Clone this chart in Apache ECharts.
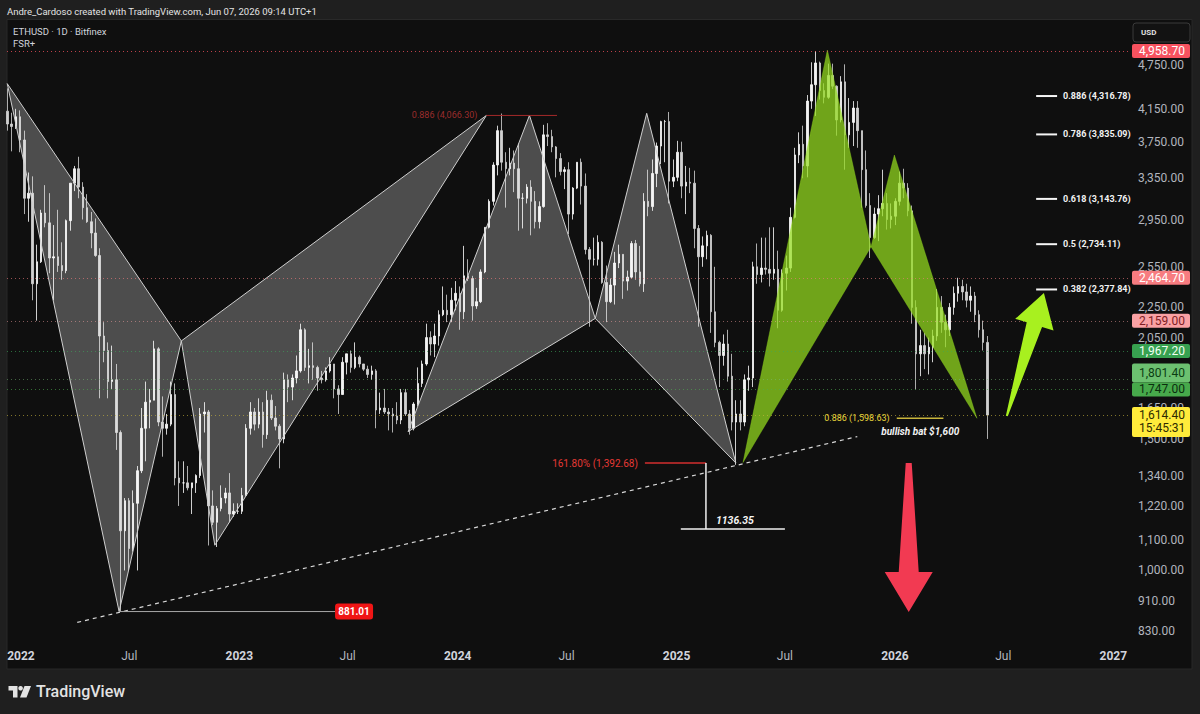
<!DOCTYPE html>
<html>
<head>
<meta charset="utf-8">
<script src="https://cdn.jsdelivr.net/npm/echarts@6/dist/echarts.min.js"></script>
<style>
html,body{margin:0;padding:0;background:#1f1f1f;}
#chart{width:1200px;height:714px;}
</style>
</head>
<body>
<div id="chart"></div>
<script>
// ================= DATA =================
// Weekly ETHUSD candles [open, high, low, close], weeks starting Monday 2021-11-29
const firstWeekStart = '2021-11-29';
const weeklyOHLC = [
  // 2021
  [4290,4780,3500,4120],[4120,4420,3880,3960],[3960,4100,3640,3930],[3930,4150,3900,4050],[4050,4130,3630,3770],
  // 2022
  [3770,3880,3000,3150],[3150,3410,2930,3200],[3200,3370,2300,2420],[2420,2730,2160,2590],
  [2590,3040,2580,3010],[3010,3280,2880,2920],[2920,3200,2500,2620],[2620,2900,2300,2630],
  [2630,3040,2510,2560],[2560,2750,2450,2520],[2520,2950,2500,2940],[2940,3300,2850,3300],[3300,3480,3220,3450],
  [3450,3580,3150,3260],[3260,3310,2950,3060],[3060,3190,2920,2930],[2930,3020,2700,2830],
  [2830,2960,2630,2640],[2640,2700,1700,2060],[2060,2150,1900,1970],[1970,2020,1700,1790],[1790,2000,1750,1800],
  [1800,1890,1450,1530],[1530,1540,881,1130],[1130,1250,1000,1240],[1240,1250,1000,1070],
  [1070,1280,1060,1230],[1230,1380,1000,1360],[1360,1650,1350,1550],[1550,1790,1400,1680],
  [1680,1750,1550,1690],[1690,2030,1690,1980],[1980,1990,1560,1580],[1580,1710,1420,1550],[1550,1620,1520,1570],
  [1570,1790,1560,1720],[1720,1780,1300,1330],[1330,1400,1220,1310],[1310,1400,1270,1310],
  [1310,1380,1280,1290],[1290,1310,1190,1310],[1310,1345,1270,1340],[1340,1650,1330,1620],[1620,1680,1530,1630],
  [1630,1640,1080,1220],[1220,1280,1150,1160],[1160,1220,1075,1210],[1210,1300,1200,1250],
  [1250,1290,1230,1270],[1270,1350,1160,1190],[1190,1230,1180,1200],[1200,1230,1190,1200],
  // 2023
  [1200,1290,1190,1260],[1260,1570,1260,1550],[1550,1680,1520,1630],[1630,1650,1540,1570],[1570,1700,1550,1630],
  [1630,1680,1460,1520],[1520,1740,1500,1690],[1690,1720,1590,1600],[1600,1660,1540,1560],
  [1560,1570,1370,1500],[1500,1840,1480,1800],[1800,1830,1680,1760],[1760,1830,1690,1810],
  [1810,1940,1780,1850],[1850,2140,1840,2100],[2100,2110,1850,1870],[1870,1980,1780,1880],
  [1880,2020,1800,1870],[1870,1880,1740,1810],[1810,1850,1780,1800],[1800,1870,1790,1850],[1850,1930,1840,1890],
  [1890,1890,1700,1750],[1750,1770,1620,1720],[1720,1930,1720,1900],[1900,1950,1830,1950],
  [1950,1970,1840,1870],[1870,2020,1860,1930],[1930,1940,1870,1890],[1890,1890,1850,1860],[1860,1880,1810,1830],
  [1830,1880,1800,1850],[1850,1860,1550,1640],[1640,1730,1620,1650],[1650,1750,1620,1630],
  [1630,1650,1540,1620],[1620,1650,1530,1610],[1610,1680,1570,1590],[1590,1750,1570,1730],
  [1730,1750,1610,1620],[1620,1640,1520,1550],[1550,1680,1540,1670],[1670,1870,1660,1780],[1780,1910,1760,1890],
  [1890,2140,1880,2050],[2050,2090,1940,2010],[2010,2140,1930,2060],[2060,2230,2000,2200],
  [2200,2400,2190,2230],[2230,2340,2150,2200],[2200,2390,2150,2300],[2300,2440,2230,2350],
  // 2024
  [2350,2400,2100,2220],[2220,2720,2170,2480],[2480,2610,2440,2460],[2460,2480,2160,2260],[2260,2390,2240,2290],
  [2290,2530,2280,2510],[2510,2880,2500,2880],[2880,3140,2870,3120],[3120,3520,3080,3490],
  [3490,3940,3380,3880],[3880,4090,3430,3520],[3520,3630,3060,3450],[3450,3680,3380,3510],
  [3510,3650,3210,3450],[3450,3730,2850,3150],[3150,3200,2870,3150],[3150,3290,3100,3260],[3260,3330,2810,3120],
  [3120,3220,2870,2930],[2930,3120,2870,3070],[3070,3950,3060,3830],[3830,3970,3700,3810],
  [3810,3890,3630,3690],[3690,3700,3360,3560],[3560,3620,3380,3420],[3420,3470,3240,3440],
  [3440,3520,2820,3000],[3000,3260,2950,3250],[3250,3520,3240,3520],[3520,3560,3090,3270],[3270,3400,2650,2690],
  [2690,2710,2120,2610],[2610,2790,2560,2610],[2610,2810,2560,2750],[2750,2760,2420,2430],
  [2430,2560,2150,2290],[2290,2460,2280,2410],[2410,2670,2270,2580],[2580,2730,2540,2650],[2650,2650,2310,2440],
  [2440,2520,2370,2470],[2470,2760,2460,2740],[2740,2770,2450,2510],[2510,2720,2400,2420],
  [2420,3200,2360,3120],[3120,3440,2980,3070],[3070,3550,3030,3400],[3400,3740,3260,3700],
  [3700,4000,3500,3990],[3990,4010,3520,3990],[3990,4110,3100,3320],[3320,3550,3260,3360],[3360,3760,3320,3630],
  // 2025
  [3630,3750,3150,3270],[3270,3480,3000,3310],[3310,3460,3200,3300],[3300,3430,2700,2870],
  [2870,2900,2120,2630],[2630,2800,2550,2720],[2720,2850,2610,2810],[2810,2820,2080,2220],
  [2220,2550,1990,2020],[2020,2030,1760,1940],[1940,2070,1880,2010],[2010,2100,1790,1820],[1820,1950,1540,1580],
  [1580,1690,1385,1620],[1620,1690,1540,1580],[1580,1830,1560,1800],[1800,1880,1740,1810],
  [1810,2590,1760,2550],[2550,2740,2420,2490],[2490,2790,2430,2540],[2540,2790,2490,2530],
  [2530,2880,2400,2500],[2500,2880,2450,2530],[2530,2680,2110,2230],[2230,2530,2220,2500],[2500,2640,2370,2540],
  [2540,3060,2510,2970],[2970,3680,2960,3600],[3600,3860,3510,3720],[3720,3940,3350,3480],
  [3480,4330,3360,4250],[4250,4790,4150,4470],[4470,4958.7,4060,4780],[4780,4800,4270,4390],
  [4390,4490,4220,4300],[4300,4770,4280,4600],[4600,4770,4410,4450],[4450,4460,3820,4010],[4010,4590,3980,4510],
  [4510,4760,3440,3830],[3830,4290,3680,3980],[3980,4250,3700,4160],[4160,4250,3680,3880],
  [3880,3880,3060,3440],[3440,3650,3060,3080],[3080,3200,2620,2790],[2790,3060,2780,3000],
  [3000,3180,2760,3050],[3050,3440,2980,3100],[3100,3200,2860,2950],[2950,3100,2870,2980],[2980,3150,2900,3120],
  // 2026
  [3120,3420,3080,3300],[3300,3450,3150,3250],[3250,3300,2980,3030],[3030,3080,2140,2250],
  [2250,2300,1747,1950],[1950,2100,1820,2000],[2000,2080,1860,1950],[1950,2050,1830,1990],
  [1990,2100,1900,2060],[2060,2380,2030,2250],[2250,2330,2080,2150],[2150,2200,1990,2100],[2100,2280,2060,2250],
  [2250,2400,2200,2350],[2350,2465,2290,2400],[2400,2450,2300,2360],[2360,2420,2250,2300],
  [2300,2400,2220,2330],[2330,2360,2150,2200],[2200,2230,2050,2100],[2100,2160,1970,2020],
  [2020,2060,1500,1614.4]
];

// Axis tick values
const priceTicks = [830, 910, 1000, 1100, 1220, 1340, 1500, 1650, 2050, 2250, 2550, 2950, 3350, 3750, 4150, 4750];
const timeTicks = ['2022-01-01','2022-07-01','2023-01-01','2023-07-01','2024-01-01','2024-07-01',
                   '2025-01-01','2025-07-01','2026-01-01','2026-07-01','2027-01-01'];

// Horizontal price levels (right-axis tags)
const priceLevels = [4958.70, 2464.70, 2159.00, 1967.20, 1801.40, 1747.00, 1614.40];
const lastBarCountdown = '15:45:31';

// Harmonic pattern triangles [date, price]
const bat2022XAB = [['2021-12-09', 4485], ['2022-06-14', 881.01], ['2022-09-26', 2029]];
const bat2022BCD = [['2022-09-26', 2029], ['2022-11-21', 1081], ['2024-02-18', 4066.30]];
const pattern2024XAB = [['2023-10-10', 1534], ['2024-04-30', 4066.30], ['2024-08-18', 2175]];
const pattern2024BCD = [['2024-08-18', 2175], ['2024-11-12', 4093], ['2025-04-10', 1392.68]];
const bat2025XAB = [['2025-04-22', 1395], ['2025-09-10', 4975], ['2025-11-22', 2713]];
const bat2025BCD = [['2025-11-22', 2713], ['2025-12-31', 3599], ['2026-05-18', 1598.63]];

// Drawn lines [date, price]
const trendLine = [['2022-04-05', 852], ['2025-10-30', 1511]];
const low881Line = [['2022-06-14', 881.01], ['2023-06-10', 881.01]];
const level4066Line = [['2024-02-18', 4066.30], ['2024-06-15', 4066.30]];
const level1392Line = [['2024-11-09', 1392.68], ['2025-02-19', 1392.68]];
const measureVertical = [['2025-02-19', 1392.68], ['2025-02-19', 1136.35]];
const measureHorizontal = [['2025-01-08', 1136.35], ['2025-07-01', 1136.35]];
const level1598Line = [['2026-01-04', 1598.63], ['2026-03-23', 1598.63]];
const bullishBatNote = ['2025-12-09', 1537];

// Fibonacci targets [ratio, price] and the span of their short lines
const fibTargets = [[0.886, 4316.78], [0.786, 3835.09], [0.618, 3143.76], [0.5, 2734.11], [0.382, 2377.84]];
const fibTargetSpan = ['2026-08-25', '2026-09-29'];

// Arrows [tail, tip]
const arrowDown = [['2026-01-24', 1392.68], ['2026-01-24', 880]];
const arrowUp = [['2026-07-07', 1610], ['2026-09-07', 2352]];

// ================= BUILD =================
const DAY = 86400000;
const toTs = s => Date.parse(s + 'T00:00:00Z');
const X_MIN = toTs('2022-01-01') - 23.4 * DAY;
const X_MAX = toTs('2022-01-01') + 1853.9 * DAY;
const Y_MIN = 794.7, Y_MAX = 5457;
const FONT = 'Roboto, "Liberation Sans", sans-serif';
const fmt = v => v.toLocaleString('en-US', {minimumFractionDigits: 2, maximumFractionDigits: 2});
const pts = arr => arr.map(p => [toTs(p[0]), p[1]]);

const week0 = toTs(firstWeekStart);
const candleData = weeklyOHLC.map((r, i) => [week0 + i * 7 * DAY + 3.5 * DAY, r[0], r[3], r[2], r[1]]);

const levelLineColors = ['rgba(247,82,95,0.75)','rgba(247,124,128,0.6)','rgba(250,161,164,0.5)',
  'rgba(60,170,90,0.6)','rgba(120,190,120,0.5)','rgba(76,175,80,0.6)','rgba(205,185,60,0.6)'];
const tagStyles = [
  {bg:'#f7525f', fg:'#ffffff', dy:0},
  {bg:'#f77c80', fg:'#ffffff', dy:0},
  {bg:'#faa1a4', fg:'#7f1d24', dy:0},
  {bg:'#37a150', fg:'#f1fff3', dy:0},
  {bg:'#6cc070', fg:'#0b3d12', dy:-7},
  {bg:'#47a94b', fg:'#0b2e0f', dy:0},
  {bg:'#ffeb3b', fg:'#2d2a00', dy:0}
];

function lineSeries(arr, style, z) {
  return {type:'line', data: pts(arr), symbol:'none', silent:true, z: z || 4,
    lineStyle: style, animation:false, emphasis:{disabled:true}};
}
function textSeries(point, text, style, dx, dy) {
  return {type:'custom', silent:true, z:7, clip:false, animation:false,
    data:[[toTs(point[0]), point[1]]], encode:{x:0, y:1},
    renderItem(params, api) {
      const c = api.coord([api.value(0), api.value(1)]);
      return {type:'text', style: Object.assign({x: c[0] + dx, y: c[1] + dy, text: text, fontFamily: FONT}, style)};
    }};
}
function polySeries(list, style, z) {
  return {type:'custom', silent:true, z:z, clip:false, animation:false,
    data: list.map((poly, i) => [toTs(poly[0][0]), poly[0][1], i]), encode:{x:0, y:1},
    renderItem(params, api) {
      const poly = list[api.value(2)];
      const points = poly.map(p => api.coord([toTs(p[0]), p[1]]));
      return {type:'polygon', shape:{points}, style: Object.assign({}, style)};
    }};
}
function arrowSeries(arr, o, color) {
  return {type:'custom', silent:true, z:8, clip:false, animation:false,
    data: [[toTs(arr[0][0]), arr[0][1], toTs(arr[1][0]), arr[1][1]]], encode:{x:0, y:1},
    renderItem(params, api) {
      const t = api.coord([api.value(0), api.value(1)]);
      const p = api.coord([api.value(2), api.value(3)]);
      const dx = p[0]-t[0], dy = p[1]-t[1], L = Math.hypot(dx, dy);
      const ux = dx/L, uy = dy/L, nx = -uy, ny = ux;
      const bx = p[0]-ux*o.head, by = p[1]-uy*o.head;
      const points = [
        [t[0]+nx*o.tail, t[1]+ny*o.tail], [bx+nx*o.neck, by+ny*o.neck], [bx+nx*o.half, by+ny*o.half], p,
        [bx-nx*o.half, by-ny*o.half], [bx-nx*o.neck, by-ny*o.neck], [t[0]-nx*o.tail, t[1]-ny*o.tail]];
      return {type:'polygon', shape:{points}, style:{fill: color}};
    }};
}

const series = [];

// Candles with dotted level lines
series.push({
  type:'candlestick', name:'ETHUSD', data: candleData, encode:{x:0, y:[1,2,3,4]},
  barWidth: 2, z:2, silent:true, animation:false,
  itemStyle:{color:'#f2f2f2', color0:'#d0d0d0', borderColor:'#ffffff', borderColor0:'#d6d6d6', borderWidth:0.8},
  markLine:{symbol:['none','none'], silent:true, animation:false, label:{show:false},
    data: priceLevels.map((v, i) => ({yAxis: v, lineStyle:{color: levelLineColors[i], type:[1,3], width:1}}))}
});

// Harmonic patterns
series.push(polySeries([bat2022XAB, bat2022BCD, pattern2024XAB, pattern2024BCD],
  {fill:'rgba(255,255,255,0.26)', stroke:'#cfcfcf', lineWidth:1}, 3));
series.push(polySeries([bat2025XAB, bat2025BCD],
  {fill:'rgba(150,222,30,0.72)', stroke:'rgba(150,222,30,0.72)', lineWidth:0.5}, 3));

// Lines
series.push(lineSeries(trendLine, {color:'#d8d8d8', width:1.2, type:[4,4]}));
series.push(lineSeries(low881Line, {color:'#a8a8a8', width:1}));
series.push(lineSeries(level4066Line, {color:'#a52a2a', width:1}));
series.push(lineSeries(level1392Line, {color:'#d32f2f', width:1.5}));
series.push(lineSeries(measureVertical, {color:'#f0f0f0', width:1.5}));
series.push(lineSeries(measureHorizontal, {color:'#f0f0f0', width:1.5}));
series.push(lineSeries(level1598Line, {color:'#c9b53c', width:1.5}));
fibTargets.forEach(f => series.push(lineSeries([[fibTargetSpan[0], f[1]], [fibTargetSpan[1], f[1]]], {color:'#f5f5f5', width:2})));

// Texts
series.push(textSeries(level4066Line[0], '0.886 (4,066.30)', {fill:'#9b2d2d', fontSize:9, align:'right', verticalAlign:'middle'}, -9, 0));
series.push(textSeries(level1392Line[0], '161.80% (1,392.68)', {fill:'#e53935', fontSize:10, align:'right', verticalAlign:'middle'}, -7, 0));
series.push(textSeries(measureVertical[1], '1136.35', {fill:'#f5f5f5', fontSize:10.5, fontStyle:'italic', fontWeight:'bold', align:'left', verticalAlign:'bottom'}, 10, -3));
series.push(textSeries(level1598Line[0], '0.886 (1,598.63)', {fill:'#ead63c', fontSize:9, align:'right', verticalAlign:'middle'}, -7, 0));
series.push(textSeries(bullishBatNote, 'bullish bat $1,600', {fill:'#f2f2f2', fontSize:10, fontStyle:'italic', fontWeight:'bold', align:'left', verticalAlign:'middle'}, 0, 0));
fibTargets.forEach(f => series.push(textSeries([fibTargetSpan[1], f[1]], String(f[0]) + ' (' + fmt(f[1]) + ')',
  {fill:'#f2f2f2', fontSize:9, fontWeight:'bold', align:'left', verticalAlign:'middle'}, 6, 0)));

// 881.01 label box
series.push({type:'custom', silent:true, z:7, clip:false, animation:false,
  data:[[toTs(low881Line[1][0]), low881Line[1][1]]], encode:{x:0, y:1},
  renderItem(params, api) {
    const c = api.coord([api.value(0), api.value(1)]);
    return {type:'group', children:[
      {type:'rect', shape:{x:c[0], y:c[1]-8, width:38, height:16, r:3}, style:{fill:'#f01515'}},
      {type:'text', style:{x:c[0]+19, y:c[1], text: fmt(api.value(1)), fill:'#ffffff', fontSize:10, fontWeight:'bold', fontFamily:FONT, align:'center', verticalAlign:'middle'}}
    ]};
  }});

// Arrows
series.push(arrowSeries(arrowDown, {head:40, half:24, neck:10, tail:3}, '#f23a52'));
series.push(arrowSeries(arrowUp, {head:33, half:20, neck:8, tail:1}, '#a8f01f'));

// Y axis tick labels (log scale)
series.push({type:'custom', silent:true, z:1, clip:false, animation:false,
  data: priceTicks.map(v => [X_MAX, v]), encode:{x:0, y:1},
  renderItem(params, api) {
    const cs = params.coordSys;
    const y = api.coord([api.value(0), api.value(1)])[1];
    return {type:'text', style:{x: cs.x + cs.width + 8, y: y, text: fmt(api.value(1)), fill:'#b2b5be', fontSize:12, fontFamily:FONT, align:'left', verticalAlign:'middle'}};
  }});

// X axis labels
series.push({type:'custom', silent:true, z:1, clip:false, animation:false,
  data: timeTicks.map(s => [toTs(s), Y_MIN]), encode:{x:0, y:1},
  renderItem(params, api) {
    const cs = params.coordSys;
    const x = api.coord([api.value(0), api.value(1)])[0];
    const s = timeTicks[params.dataIndex];
    const isYear = s.slice(5, 7) === '01';
    return {type:'text', style:{x: x, y: cs.y + cs.height + 11, text: isYear ? s.slice(0, 4) : 'Jul',
      fill: isYear ? '#d1d4dc' : '#b2b5be', fontSize:12, fontWeight: isYear ? 'bold' : 'normal', fontFamily:FONT, align:'center', verticalAlign:'middle'}};
  }});

// Price tags on the right axis
series.push({type:'custom', silent:true, z:9, clip:false, animation:false,
  data: priceLevels.map(v => [X_MAX, v]), encode:{x:0, y:1},
  renderItem(params, api) {
    const i = params.dataIndex;
    const cs = params.coordSys;
    const st = tagStyles[i];
    const y = api.coord([api.value(0), api.value(1)])[1] + st.dy;
    const x0 = cs.x + cs.width + 2;
    const isLast = i === priceLevels.length - 1;
    const children = [];
    if (isLast) {
      children.push({type:'rect', shape:{x:x0, y:y-8, width:58, height:30, r:2}, style:{fill:st.bg}});
      children.push({type:'text', style:{x:x0+7, y:y, text: fmt(api.value(1)), fill:st.fg, fontSize:12, fontFamily:FONT, align:'left', verticalAlign:'middle'}});
      children.push({type:'text', style:{x:x0+7, y:y+13, text: lastBarCountdown, fill:st.fg, fontSize:12, fontFamily:FONT, align:'left', verticalAlign:'middle'}});
    } else {
      const h = st.dy ? 19 : 14;
      const top = st.dy ? y - 9 : y - 7;
      children.push({type:'rect', shape:{x:x0, y:top, width:58, height:h, r:2}, style:{fill:st.bg}});
      children.push({type:'text', style:{x:x0+7, y:y, text: fmt(api.value(1)), fill:st.fg, fontSize:12, fontFamily:FONT, align:'left', verticalAlign:'middle'}});
    }
    return {type:'group', children};
  }});

const option = {
  backgroundColor:'#1f1f1f',
  animation:false,
  grid:{left:7, right:70, top:20, bottom:69, containLabel:false},
  xAxis:{type:'time', min:X_MIN, max:X_MAX, axisLine:{show:false}, axisTick:{show:false}, axisLabel:{show:false}, splitLine:{show:false}},
  yAxis:{type:'log', logBase:10, min:Y_MIN, max:Y_MAX, position:'right', axisLine:{show:false}, axisTick:{show:false}, axisLabel:{show:false}, splitLine:{show:false}},
  graphic:{elements:[
    {type:'rect', z:-10, silent:true, shape:{x:7, y:19.5, width:1185, height:649.5}, style:{fill:'#0f0f0f', stroke:'#292929', lineWidth:1}},
    {type:'text', z:10, silent:true, style:{x:7, y:11, text:'Andre_Cardoso created with TradingView.com, Jun 07, 2026 09:14 UTC+1', fill:'#e3e3e3', fontSize:9.5, fontFamily:FONT, verticalAlign:'middle'}},
    {type:'text', z:10, silent:true, style:{x:13, y:31, text:'ETHUSD · 1D · Bitfinex', fill:'#d1d4dc', fontSize:9.5, fontFamily:FONT, verticalAlign:'middle'}},
    {type:'text', z:10, silent:true, style:{x:13, y:43, text:'FSR+', fill:'#d1d4dc', fontSize:9.5, fontFamily:FONT, verticalAlign:'middle'}},
    {type:'rect', z:10, silent:true, shape:{x:1133, y:23, width:57, height:19, r:3}, style:{fill:'#121212', stroke:'#3a3a3a', lineWidth:1}},
    {type:'text', z:11, silent:true, style:{x:1141, y:32.5, text:'USD', fill:'#e0e0e0', fontSize:8, fontWeight:'bold', fontFamily:FONT, verticalAlign:'middle'}},
    {type:'polygon', z:10, silent:true, shape:{points:[[8.5,686],[17.5,686],[17.5,697.5],[13,697.5],[13,690.5],[8.5,690.5]]}, style:{fill:'#e3e3e3'}},
    {type:'circle', z:10, silent:true, shape:{cx:20.6, cy:688.3, r:2.3}, style:{fill:'#e3e3e3'}},
    {type:'polygon', z:10, silent:true, shape:{points:[[24.5,686],[31,686],[26.5,697.5],[20,697.5]]}, style:{fill:'#e3e3e3'}},
    {type:'text', z:10, silent:true, style:{x:36, y:691.5, text:'TradingView', fill:'#e3e3e3', fontSize:16, fontWeight:500, fontFamily:FONT, verticalAlign:'middle'}}
  ]},
  series: series
};

const chart = echarts.init(document.getElementById('chart'), null, {renderer:'svg', width:1200, height:714});
chart.setOption(option);
</script>
</body>
</html>
